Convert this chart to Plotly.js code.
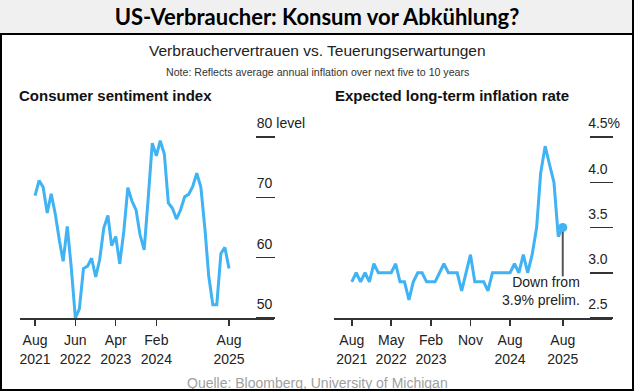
<!DOCTYPE html>
<html>
<head>
<meta charset="utf-8">
<script src="https://cdn.plot.ly/plotly-3.0.1.min.js"></script>
<style>
  body { margin: 0; background: #fff; }
  #wrap { position: relative; width: 634px; height: 392px; background: #fff; overflow: hidden; }
  #band { position: absolute; left: 0; top: 0; width: 634px; height: 33px; background: #f0f0f0; }
  #plot { position: absolute; left: 0; top: 0; width: 634px; height: 392px; }
  #f1 { position: absolute; left: 0; top: 0; width: 634px; height: 391px; box-sizing: border-box; border-right: 2px solid #000; border-bottom: 2px solid #000; pointer-events: none; }
  #f2 { position: absolute; left: 0; top: 33px; width: 634px; height: 358px; box-sizing: border-box; border-left: 2px solid #000; border-top: 2px solid #000; pointer-events: none; }
</style>
</head>
<body>
<div id="wrap">
  <div id="band"></div>
  <div id="plot"></div>
  <div id="f1"></div>
  <div id="f2"></div>
</div>
<script>
// ---- Data (monthly, Aug 2021 - Aug 2025) ----
const months = [
  '2021-08-01','2021-09-01','2021-10-01','2021-11-01','2021-12-01',
  '2022-01-01','2022-02-01','2022-03-01','2022-04-01','2022-05-01','2022-06-01','2022-07-01','2022-08-01','2022-09-01','2022-10-01','2022-11-01','2022-12-01',
  '2023-01-01','2023-02-01','2023-03-01','2023-04-01','2023-05-01','2023-06-01','2023-07-01','2023-08-01','2023-09-01','2023-10-01','2023-11-01','2023-12-01',
  '2024-01-01','2024-02-01','2024-03-01','2024-04-01','2024-05-01','2024-06-01','2024-07-01','2024-08-01','2024-09-01','2024-10-01','2024-11-01','2024-12-01',
  '2025-01-01','2025-02-01','2025-03-01','2025-04-01','2025-05-01','2025-06-01','2025-07-01','2025-08-01'
];
const sentiment = [
  70.3, 72.8, 71.7, 67.4, 70.6,
  67.2, 62.8, 59.4, 65.2, 58.4, 50.0, 51.5, 58.2, 58.6, 59.9, 56.8, 59.7,
  64.9, 67.0, 62.0, 63.5, 59.0, 64.4, 71.6, 69.4, 67.9, 63.8, 61.3, 69.7,
  79.0, 76.9, 79.4, 77.2, 69.1, 68.2, 66.4, 67.9, 70.1, 70.5, 71.8, 74.0,
  71.7, 64.7, 57.0, 52.2, 52.2, 60.7, 61.7, 58.2
];
const inflation = [
  2.9, 3.0, 2.9, 3.0, 2.9,
  3.1, 3.0, 3.0, 3.0, 3.0, 3.1, 2.9, 2.9, 2.7, 2.9, 3.0, 3.0,
  2.9, 2.9, 2.9, 3.0, 3.1, 3.0, 3.0, 3.0, 2.8, 3.0, 3.2, 2.9,
  2.9, 2.9, 2.8, 3.0, 3.0, 3.0, 3.0, 3.0, 3.1, 3.0, 3.2, 3.0,
  3.2, 3.5, 4.1, 4.4, 4.2, 4.0, 3.4, 3.5
];
const leftTickVals = ['2021-08-01','2022-06-01','2023-04-01','2024-02-01','2025-08-01'];
const leftTickText = ['Aug<br>2021','Jun<br>2022','Apr<br>2023','Feb<br>2024','Aug<br>2025'];
const rightTickVals = ['2021-08-01','2022-05-01','2023-02-01','2023-11-01','2024-08-01','2025-08-01'];
const rightTickText = ['Aug<br>2021','May<br>2022','Feb<br>2023','Nov','Aug<br>2024','Aug<br>2025'];
const leftYVals = [50, 60, 70, 80];
const leftYText = ['50', '60', '70', '80 level'];
const rightYVals = [2.5, 3.0, 3.5, 4.0, 4.5];
const rightYText = ['2.5', '3.0', '3.5', '4.0', '4.5%'];
const prelimNote = 'Down from<br>3.9% prelim.';

const blue = '#3fb3f3';
const last = months.length - 1;
const FONT = 'Liberation Sans, Arial, sans-serif';

const traces = [
  { x: months, y: sentiment, type: 'scatter', mode: 'lines', xaxis: 'x', yaxis: 'y',
    line: { color: blue, width: 3 }, hoverinfo: 'skip' },
  { x: months, y: inflation, type: 'scatter', mode: 'lines', xaxis: 'x2', yaxis: 'y2',
    line: { color: blue, width: 3 }, hoverinfo: 'skip' },
  { x: [months[last]], y: [inflation[last]], type: 'scatter', mode: 'markers', xaxis: 'x2', yaxis: 'y2',
    marker: { color: blue, size: 9 }, cliponaxis: false, hoverinfo: 'skip' }
];

const xCommon = {
  type: 'date', showgrid: false, zeroline: false, showline: true, linecolor: '#333', linewidth: 1.5,
  ticks: 'outside', ticklen: 6, tickwidth: 1.5, tickcolor: '#333', ticklabelstandoff: 3,
  tickfont: { family: FONT, size: 14, color: '#222' }, tickmode: 'array', fixedrange: true
};
const yCommon = {
  showgrid: false, zeroline: false, showline: false, side: 'right', anchor: 'free',
  ticks: 'outside', tickwidth: 1.5, tickcolor: '#333', tickmode: 'array',
  tickfont: { family: FONT, size: 14, color: '#222' }, ticklabelshift: -14, fixedrange: true
};

const layout = {
  width: 634, height: 392,
  margin: { l: 20, r: 22, t: 119, b: 74 },
  paper_bgcolor: 'rgba(0,0,0,0)', plot_bgcolor: 'rgba(0,0,0,0)',
  showlegend: false,
  title: { text: 'US-Verbraucher: Konsum vor Abkühlung?', font: { family: 'Lato, sans-serif', size: 22, weight: 'bold', color: '#000' },
           x: 0.5, xref: 'container', xanchor: 'center', y: 1 - 17 / 392, yref: 'container', yanchor: 'middle' },
  xaxis: Object.assign({}, xCommon, { domain: [0, 0.4291], range: ['2021-04-10', '2026-07-06'],
           tickvals: leftTickVals, ticktext: leftTickText, anchor: 'y' }),
  yaxis: Object.assign({}, yCommon, { domain: [0, 1], range: [50, 83], position: 0.397, ticklen: 19,
           ticklabelstandoff: -21, tickvals: leftYVals, ticktext: leftYText }),
  xaxis2: Object.assign({}, xCommon, { domain: [0.5304, 1], range: ['2021-03-31', '2026-07-08'],
           tickvals: rightTickVals, ticktext: rightTickText, anchor: 'y2' }),
  yaxis2: Object.assign({}, yCommon, { domain: [0, 1], range: [2.5, 4.7], position: 0.9617, ticklen: 23,
           ticklabelstandoff: -5, ticklabelposition: 'outside top', ticklabelshift: -3,
           tickvals: rightYVals, ticktext: rightYText }),
  shapes: [
    { type: 'line', xref: 'x2', yref: 'y2', x0: months[last], x1: months[last], y0: 2.96, y1: inflation[last],
      line: { color: '#555', width: 2 }, layer: 'below' }
  ],
  annotations: [
    { text: 'Verbrauchervertrauen vs. Teuerungserwartungen', xref: 'paper', yref: 'paper', x: 0.5017, y: 1.3467,
      xanchor: 'center', yanchor: 'middle', showarrow: false, font: { family: FONT, size: 15.5, color: '#222' } },
    { text: 'Note: Reflects average annual inflation over next five to 10 years', xref: 'paper', yref: 'paper', x: 0.5017, y: 1.2362,
      xanchor: 'center', yanchor: 'middle', showarrow: false, font: { family: FONT, size: 10.6, color: '#333' } },
    { text: 'Consumer sentiment index', xref: 'paper', yref: 'paper', x: -0.0051, y: 1.1156,
      xanchor: 'left', yanchor: 'middle', showarrow: false, font: { family: FONT, size: 15, weight: 'bold', color: '#111' } },
    { text: 'Expected long-term inflation rate', xref: 'paper', yref: 'paper', x: 0.5287, y: 1.1156,
      xanchor: 'left', yanchor: 'middle', showarrow: false, font: { family: FONT, size: 15, weight: 'bold', color: '#111' } },
    { text: prelimNote, xref: 'x2', yref: 'y2', x: months[last], y: 2.8, xshift: 19,
      xanchor: 'right', yanchor: 'middle', align: 'right', showarrow: false, font: { family: FONT, size: 14, color: '#222' } },
    { text: 'Quelle: Bloomberg, University of Michigan', xref: 'paper', yref: 'paper', x: 0.5017, y: -0.3266,
      xanchor: 'center', yanchor: 'middle', showarrow: false, font: { family: FONT, size: 14, color: '#a0a0a0' } }
  ]
};

Plotly.newPlot('plot', traces, layout, { displayModeBar: false, staticPlot: true });
</script>
</body>
</html>
